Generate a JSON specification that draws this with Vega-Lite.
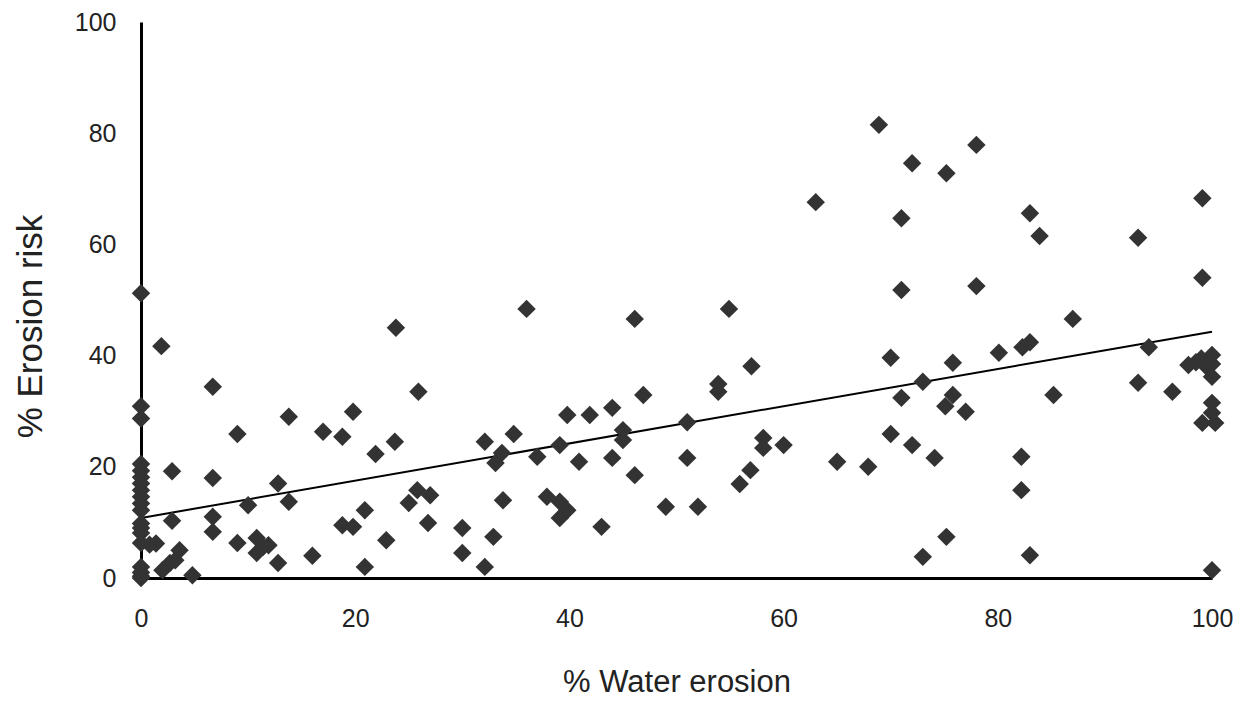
{
  "$schema": "https://vega.github.io/schema/vega-lite/v6.json",
  "width": 1071,
  "height": 556,
  "autosize": "none",
  "padding": {"left": 141, "top": 22, "right": 28, "bottom": 125},
  "background": "white",
  "config": {
    "view": {"stroke": null},
    "font": "Liberation Sans",
    "axis": {
      "grid": false,
      "ticks": false,
      "labelFlush": false,
      "labelOverlap": false,
      "domainColor": "#000000",
      "domainWidth": 3,
      "labelColor": "#222222",
      "labelFont": "Liberation Sans",
      "labelFontSize": 25,
      "titleFont": "Liberation Sans",
      "titleFontWeight": "normal",
      "titleColor": "#222222"
    }
  },
  "datasets": {
    "points": [
      {"water": 0, "risk": 51.2}, {"water": 0, "risk": 30.9}, {"water": 0, "risk": 28.7}, {"water": 0, "risk": 20.5},
      {"water": 0, "risk": 19.3}, {"water": 0, "risk": 18.1}, {"water": 0, "risk": 17}, {"water": 0, "risk": 15.8},
      {"water": 0, "risk": 14.6}, {"water": 0, "risk": 13.4}, {"water": 0, "risk": 12.2}, {"water": 0, "risk": 9.8},
      {"water": 0, "risk": 9}, {"water": 0, "risk": 8.1}, {"water": 0, "risk": 6.3}, {"water": 0, "risk": 2},
      {"water": 0, "risk": 1}, {"water": 0, "risk": 0.3}, {"water": 0, "risk": 0},
      {"water": 1.9, "risk": 41.7}, {"water": 2.9, "risk": 19.2}, {"water": 6.7, "risk": 34.4}, {"water": 9, "risk": 25.9},
      {"water": 13.8, "risk": 29}, {"water": 17, "risk": 26.3}, {"water": 18.8, "risk": 25.4}, {"water": 19.8, "risk": 29.9},
      {"water": 21.9, "risk": 22.3}, {"water": 23.7, "risk": 24.5}, {"water": 23.8, "risk": 45}, {"water": 6.7, "risk": 18},
      {"water": 12.8, "risk": 17}, {"water": 13.8, "risk": 13.7}, {"water": 10, "risk": 13.1}, {"water": 2.9, "risk": 10.3},
      {"water": 6.7, "risk": 11}, {"water": 6.7, "risk": 8.3}, {"water": 9, "risk": 6.3}, {"water": 10.8, "risk": 7.2},
      {"water": 11.4, "risk": 5.6}, {"water": 10.8, "risk": 4.5}, {"water": 11.9, "risk": 5.9}, {"water": 12.8, "risk": 2.7},
      {"water": 16, "risk": 4}, {"water": 20.9, "risk": 2}, {"water": 18.8, "risk": 9.5}, {"water": 19.8, "risk": 9.2},
      {"water": 20.9, "risk": 12.2}, {"water": 22.9, "risk": 6.8}, {"water": 0.8, "risk": 6}, {"water": 1.4, "risk": 6.2},
      {"water": 3.6, "risk": 5}, {"water": 2.7, "risk": 2.7}, {"water": 2, "risk": 1.4}, {"water": 4.8, "risk": 0.5},
      {"water": 3.2, "risk": 3.2},
      {"water": 36, "risk": 48.4}, {"water": 46.1, "risk": 46.6}, {"water": 25.9, "risk": 33.5}, {"water": 46.9, "risk": 32.9},
      {"water": 32.1, "risk": 24.5}, {"water": 34.8, "risk": 25.9}, {"water": 39.8, "risk": 29.3}, {"water": 41.9, "risk": 29.3},
      {"water": 44, "risk": 30.6}, {"water": 45, "risk": 26.6}, {"water": 45, "risk": 24.8}, {"water": 33.7, "risk": 22.5},
      {"water": 33.1, "risk": 20.7}, {"water": 37, "risk": 21.8}, {"water": 39.1, "risk": 23.9}, {"water": 40.9, "risk": 20.9},
      {"water": 44, "risk": 21.6}, {"water": 46.1, "risk": 18.5}, {"water": 49, "risk": 12.8}, {"water": 25.8, "risk": 15.8},
      {"water": 27, "risk": 14.9}, {"water": 25, "risk": 13.5}, {"water": 26.8, "risk": 9.9}, {"water": 33.8, "risk": 14},
      {"water": 37.9, "risk": 14.6}, {"water": 39.1, "risk": 13.7}, {"water": 39.8, "risk": 12.2}, {"water": 39.1, "risk": 10.8},
      {"water": 43, "risk": 9.2}, {"water": 30, "risk": 9}, {"water": 30, "risk": 4.5}, {"water": 32.9, "risk": 7.4},
      {"water": 32.1, "risk": 2},
      {"water": 68.9, "risk": 81.5}, {"water": 72, "risk": 74.6}, {"water": 75.2, "risk": 72.8}, {"water": 63, "risk": 67.6},
      {"water": 71, "risk": 64.7}, {"water": 71, "risk": 51.8}, {"water": 54.9, "risk": 48.4}, {"water": 78, "risk": 77.9},
      {"water": 57, "risk": 38.1}, {"water": 53.9, "risk": 34.9}, {"water": 53.9, "risk": 33.5}, {"water": 51, "risk": 28},
      {"water": 51, "risk": 21.6}, {"water": 52, "risk": 12.8}, {"water": 56.9, "risk": 19.4}, {"water": 55.9, "risk": 16.9},
      {"water": 58.1, "risk": 25.2}, {"water": 58.1, "risk": 23.4}, {"water": 60, "risk": 23.9}, {"water": 65, "risk": 20.9},
      {"water": 67.9, "risk": 20}, {"water": 70, "risk": 39.6}, {"water": 70, "risk": 25.9}, {"water": 71, "risk": 32.4},
      {"water": 72, "risk": 23.9}, {"water": 73, "risk": 35.3}, {"water": 74.1, "risk": 21.6}, {"water": 75.8, "risk": 38.7},
      {"water": 75.8, "risk": 32.9}, {"water": 75.1, "risk": 30.9}, {"water": 75.2, "risk": 7.4}, {"water": 73, "risk": 3.8},
      {"water": 99.1, "risk": 68.3}, {"water": 83, "risk": 65.6}, {"water": 83.9, "risk": 61.5}, {"water": 93.1, "risk": 61.2},
      {"water": 99.1, "risk": 54}, {"water": 78, "risk": 52.5}, {"water": 87, "risk": 46.6}, {"water": 80.1, "risk": 40.5},
      {"water": 82.3, "risk": 41.5}, {"water": 83, "risk": 42.4}, {"water": 94.1, "risk": 41.5}, {"water": 97.8, "risk": 38.3},
      {"water": 100, "risk": 40.1}, {"water": 99.5, "risk": 38}, {"water": 98.5, "risk": 38.8}, {"water": 99, "risk": 39.5},
      {"water": 100, "risk": 38.5}, {"water": 100, "risk": 36.2}, {"water": 93.1, "risk": 35.1}, {"water": 96.3, "risk": 33.5},
      {"water": 85.2, "risk": 32.9}, {"water": 77, "risk": 29.9}, {"water": 100, "risk": 31.5}, {"water": 100, "risk": 29.7},
      {"water": 99.1, "risk": 27.9}, {"water": 100.3, "risk": 27.9}, {"water": 82.2, "risk": 21.8}, {"water": 82.2, "risk": 15.8},
      {"water": 83, "risk": 4.1}, {"water": 100, "risk": 1.4}
    ],
    "trend": [
      {"water": 0, "risk": 10.8},
      {"water": 100, "risk": 44.3}
    ]
  },
  "layer": [
    {
      "data": {"name": "trend"},
      "mark": {"type": "line", "color": "#000000", "strokeWidth": 2},
      "encoding": {
        "x": {"field": "water", "type": "quantitative"},
        "y": {"field": "risk", "type": "quantitative"}
      }
    },
    {
      "data": {"name": "points"},
      "mark": {"type": "point", "shape": "diamond", "filled": true, "color": "#333333", "opacity": 1, "size": 340},
      "encoding": {
        "x": {
          "field": "water", "type": "quantitative",
          "scale": {"domain": [0, 100], "nice": false, "zero": false},
          "axis": {
            "title": "% Water erosion",
            "values": [0, 20, 40, 60, 80, 100],
            "labelPadding": 28,
            "titleFontSize": 31,
            "titleBaseline": "middle",
            "titleY": 104
          }
        },
        "y": {
          "field": "risk", "type": "quantitative",
          "scale": {"domain": [0, 100], "nice": false, "zero": false},
          "axis": {
            "title": "% Erosion risk",
            "values": [0, 20, 40, 60, 80, 100],
            "labelPadding": 25,
            "titleFontSize": 35,
            "titleAngle": -90,
            "titleBaseline": "middle",
            "titleX": -111,
            "titleY": 304
          }
        }
      }
    }
  ]
}
